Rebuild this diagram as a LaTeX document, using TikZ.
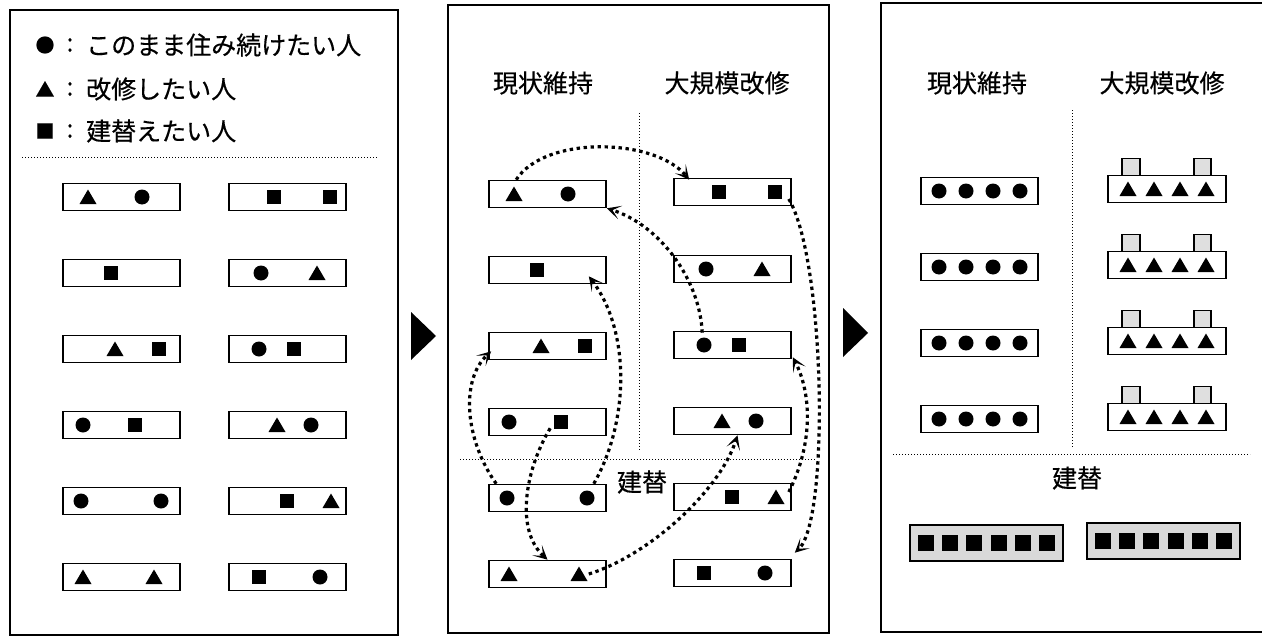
\documentclass[tikz,border=0pt]{standalone}
\usepackage{fontspec}
\newfontfamily\jp[FakeBold=0.4]{Noto Sans CJK JP}
\usetikzlibrary{arrows.meta,calc}
\newcommand{\hC}[1]{\fill (#1,0) circle[radius=7.5pt];}
\newcommand{\hS}[1]{\fill (#1-7,-7) rectangle (#1+7,7);}
\newcommand{\hT}[1]{\fill (#1-8.5,7) -- (#1+8.5,7) -- (#1,-7.5) -- cycle;}
% plain house: name, left x, centre y, contents
\newcommand{\house}[4]{%
  \node[hbox] (#1) at (#2+58.5,#3) {};
  \begin{scope}[shift={(#2,#3)}]#4\end{scope}}
% renovated house with two chimneys
\newcommand{\chouse}[3]{%
  \filldraw[chim] (#2+14,#3-13.5) rectangle (#2+32,#3-30.5);
  \filldraw[chim] (#2+86,#3-13.5) rectangle (#2+103,#3-30.5);
  \node[hbox, minimum width=118pt] (#1) at (#2+59,#3) {};
  \begin{scope}[shift={(#2,#3)}]\hT{20}\hT{46}\hT{72}\hT{98}\end{scope}}
% rebuilt block
\newcommand{\rhouse}[3]{%
  \node[rbox] (#1) at (#2+76.5,#3) {};
  \begin{scope}[shift={(#2,#3)}]
    \foreach \k in {0,...,5}{\fill ({16+24.2*\k-8},-8) rectangle ({16+24.2*\k+8},8);}
  \end{scope}}
\begin{document}
\begin{tikzpicture}[x=1pt,y=-1pt,
  panel/.style={draw, line width=2.4pt},
  hbox/.style={draw, line width=1.6pt, fill=white, minimum width=117pt, minimum height=27pt, inner sep=0pt},
  rbox/.style={draw, line width=1.6pt, fill=gray!30, minimum width=153pt, minimum height=36pt, inner sep=0pt},
  chim/.style={fill=gray!25, draw, line width=1.2pt},
  sep/.style={dotted, line width=1pt},
  jtxt/.style={font=\jp\fontsize{25}{30}\selectfont, inner sep=0pt},
  legsym/.style={font=\jp\fontsize{19}{22}\selectfont, inner sep=0pt},
  move/.style={line width=3.2pt, dash pattern=on 3.4pt off 3.6pt,
    -{Stealth[length=14pt,width=14pt,inset=8pt]}},
  flow/.style={fill=black}]
\useasboundingbox (0,0) rectangle (1262,637);

% ---------- panels ----------
\draw[panel] (10,10) rectangle (398,635);
\draw[panel] (448,5) rectangle (829,633);
\draw[panel] (881,3) rectangle (1268,632);

% flow triangles
\fill[flow] (411,312) -- (436,336) -- (411,360) -- cycle;
\fill[flow] (843,308) -- (868,333) -- (843,357) -- cycle;

% ---------- left panel: legend ----------
\node[legsym] (s1) at (45,45) {●};
\node[jtxt] (c1) at (70,45) {:};
\node[jtxt, anchor=west] (t1) at (86,45) {このまま住み続けたい人};
\node[legsym] (s2) at (45,89) {▲};
\node[jtxt] (c2) at (70,89) {:};
\node[jtxt, anchor=west] (t2) at (86,89) {改修したい人};
\node[legsym] (s3) at (45,131) {■};
\node[jtxt] (c3) at (70,131) {:};
\node[jtxt, anchor=west] (t3) at (86,131) {建替えたい人};
\draw[sep] (22,157) -- (378,157);

% ---------- left panel: houses ----------
\house{A1a}{63}{197}{\hT{25}\hC{79}}
\house{A1b}{229}{197}{\hS{45}\hS{101}}
\house{A2a}{63}{273}{\hS{48}}
\house{A2b}{229}{273}{\hC{32}\hT{88}}
\house{A3a}{63}{349}{\hT{52}\hS{96}}
\house{A3b}{229}{349}{\hC{30}\hS{65}}
\house{A4a}{63}{425}{\hC{20}\hS{72}}
\house{A4b}{229}{425}{\hT{48}\hC{82}}
\house{A5a}{63}{501}{\hC{18}\hC{98}}
\house{A5b}{229}{501}{\hS{58}\hT{102}}
\house{A6a}{63}{577}{\hT{20}\hT{91}}
\house{A6b}{229}{577}{\hS{30}\hC{91}}

% ---------- middle panel ----------
\node[jtxt] (mh1) at (543,83) {現状維持};
\node[jtxt] (mh2) at (727,83) {大規模改修};
\node[jtxt] (mh3) at (642,482) {建替};
\draw[sep] (639,113) -- (639,450);
\draw[sep] (460,459) -- (815,459);

\house{M1a}{489}{194}{\hT{25}\hC{79}}
\house{M1b}{674}{192}{\hS{45}\hS{101}}
\house{M2a}{489}{270}{\hS{48}}
\house{M2b}{674}{269}{\hC{32}\hT{88}}
\house{M3a}{489}{346}{\hT{52}\hS{96}}
\house{M3b}{674}{345}{\hC{30}\hS{65}}
\house{M4a}{489}{422}{\hC{20}\hS{72}}
\house{M4b}{674}{421}{\hT{48}\hC{82}}
\house{M5a}{489}{498}{\hC{18}\hC{98}}
\house{M5b}{674}{497}{\hS{58}\hT{102}}
\house{M6a}{489}{574}{\hT{20}\hT{90}}
\house{M6b}{674}{573}{\hS{30}\hC{91}}

% moves
\draw[move] ($(M1a.north west)+(28,0)$) .. controls (545,135) and (655,138) .. ($(M1b.north west)+(16,2)$);
\draw[move] ($(M3b.north west)+(29,2)$) .. controls (700,280) and (660,225) .. (M1a.south east);
\draw[move] ($(M1b.east)+(-3,7)$) .. controls (825,260) and (830,520) .. ($(M6b.north east)+(3,-6)$);
\draw[move] ($(M5a.north east)+(-13,0)$) .. controls (630,420) and (630,330) .. ($(M2a.south east)+(-18,-8)$);
\draw[move] ($(M5a.north west)+(8,0)$) .. controls (465,440) and (460,380) .. ($(M3a.south west)+(3,-9)$);
\draw[move] ($(M4a.south west)+(62,-8)$) .. controls (525,470) and (515,530) .. (M6a.north);
\draw[move] ($(M6a.east)+(-18,0)$) .. controls (650,555) and (720,490) .. ($(M4b.south)+(5,0)$);
\draw[move] ($(M5b.east)+(-3,-5)$) .. controls (815,440) and (810,390) .. ($(M3b.south east)+(1,-2)$);

% ---------- right panel ----------
\node[jtxt] (rh1) at (977,83) {現状維持};
\node[jtxt] (rh2) at (1162,83) {大規模改修};
\node[jtxt] (rh3) at (1077,478) {建替};
\draw[sep] (1072,110) -- (1072,447);
\draw[sep] (893,454) -- (1250,454);

\house{R1a}{921}{191}{\hC{18}\hC{45}\hC{72}\hC{99}}
\house{R2a}{921}{267}{\hC{18}\hC{45}\hC{72}\hC{99}}
\house{R3a}{921}{343}{\hC{18}\hC{45}\hC{72}\hC{99}}
\house{R4a}{921}{419}{\hC{18}\hC{45}\hC{72}\hC{99}}
\chouse{R1b}{1108}{189}
\chouse{R2b}{1108}{265}
\chouse{R3b}{1108}{341}
\chouse{R4b}{1108}{417}
\rhouse{R5a}{910}{543}
\rhouse{R5b}{1087}{541}
\end{tikzpicture}
\end{document}
